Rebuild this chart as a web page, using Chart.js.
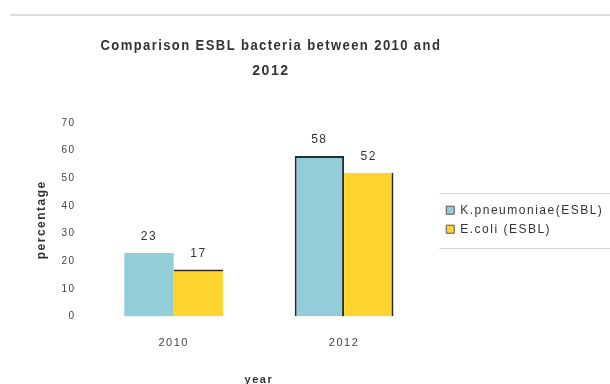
<!DOCTYPE html>
<html>
<head>
<meta charset="utf-8">
<script src="https://cdn.jsdelivr.net/npm/chart.js@4.4.1/dist/chart.umd.min.js"></script>
<style>
  body { margin: 0; background: #fff; }
  #wrap { position: relative; width: 610px; height: 384px; overflow: hidden; }
  #topline { position: absolute; left: 10px; top: 14px; width: 600px; height: 2px; background: #dcdcdc; }
  #esblChart { position: absolute; left: 0; top: 0; }
</style>
</head>
<body>
<div id="wrap">
  <div id="topline"></div>
  <canvas id="esblChart" width="610" height="384"></canvas>
</div>
<script>
var years = ['2010', '2012'];
var kpneumoniae = [23, 58];
var ecoli = [17, 52];
var seriesNames = ['K.pneumoniae(ESBL)', 'E.coli (ESBL)'];
var yTicks = [0, 10, 20, 30, 40, 50, 60, 70];

document.addEventListener('DOMContentLoaded', function () {
    // wide text like the original office export
    var spacing = {
        id: 'spacing',
        beforeUpdate: function (chart) { chart.ctx.letterSpacing = '1.5px'; },
        beforeDraw: function (chart) { chart.ctx.letterSpacing = '1.5px'; }
    };

    // nudge title and legend after the layout is done,
    // the legend is allowed to run off the right edge
    var nudge = {
        id: 'nudge',
        afterLayout: function (chart) {
            var t = chart.titleBlock;
            t.left += 12; t.right += 12;
            var lg = chart.legend;
            lg.left += 10; lg.right += 50; lg.width += 40;
        }
    };

    // value labels above each bar
    var barValues = {
        id: 'barValues',
        afterDatasetsDraw: function (chart) {
            var ctx = chart.ctx;
            ctx.save();
            ctx.font = '12px "Liberation Sans", Arial, sans-serif';
            ctx.fillStyle = '#333';
            ctx.textAlign = 'center';
            ctx.textBaseline = 'bottom';
            chart.data.datasets.forEach(function (ds, i) {
                chart.getDatasetMeta(i).data.forEach(function (bar, j) {
                    ctx.fillText(ds.data[j], bar.x, bar.y - 10);
                });
            });
            ctx.restore();
        }
    };

    // thin rules above and below the legend
    var legendRules = {
        id: 'legendRules',
        afterDraw: function (chart) {
            var lg = chart.legend;
            var boxes = lg.legendHitBoxes;
            if (!boxes || !boxes.length) return;
            var top = Math.round(boxes[0].top - 11) + 0.5;
            var last = boxes[boxes.length - 1];
            var bottom = Math.round(last.top + last.height + 13) + 0.5;
            var ctx = chart.ctx;
            ctx.save();
            ctx.strokeStyle = '#d9d9d9';
            ctx.lineWidth = 1;
            ctx.beginPath();
            ctx.moveTo(lg.left, top);
            ctx.lineTo(chart.width, top);
            ctx.moveTo(lg.left, bottom);
            ctx.lineTo(chart.width, bottom);
            ctx.stroke();
            ctx.restore();
        }
    };

    var ctx = document.getElementById('esblChart').getContext('2d');
    var myChart = new Chart(ctx, {
        type: 'bar',
        data: {
            labels: years,
            datasets: [{
                label: seriesNames[0],
                data: kpneumoniae,
                backgroundColor: '#93cdd9',
                borderColor: '#1e3234',
                borderWidth: [0, 2]
            }, {
                label: seriesNames[1],
                data: ecoli,
                backgroundColor: '#fed530',
                borderColor: '#2b2616',
                borderWidth: [{ top: 2, left: 0, right: 0, bottom: 0 }, { top: 0, left: 0, right: 2, bottom: 0 }]
            }]
        },
        options: {
            responsive: false,
            animation: false,
            layout: {
                padding: { top: 34, left: 28, right: 47, bottom: -3 }
            },
            datasets: {
                bar: { categoryPercentage: 0.58, barPercentage: 1.0, borderSkipped: 'start' }
            },
            plugins: {
                title: {
                    display: true,
                    fullSize: false,
                    text: ['Comparison ESBL bacteria between 2010 and', '2012'],
                    color: '#333',
                    font: { family: '"Liberation Sans", Arial, sans-serif', size: 14, weight: 'bold', lineHeight: 1.78 },
                    padding: { top: 0, bottom: 39 }
                },
                legend: {
                    position: 'right',
                    align: 'center',
                    fullSize: false,
                    labels: {
                        boxWidth: 8,
                        boxHeight: 8,
                        padding: 7,
                        color: '#333',
                        font: { family: '"Liberation Sans", Arial, sans-serif', size: 12 },
                        generateLabels: function (chart) {
                            var items = Chart.defaults.plugins.legend.labels.generateLabels(chart);
                            items.forEach(function (it) {
                                it.strokeStyle = '#555';
                                it.lineWidth = 1;
                            });
                            return items;
                        }
                    }
                },
                tooltip: { enabled: false }
            },
            scales: {
                x: {
                    grid: { display: false, drawTicks: false },
                    border: { display: false },
                    ticks: {
                        color: '#444',
                        padding: 20,
                        font: { family: '"Liberation Sans", Arial, sans-serif', size: 11 }
                    },
                    title: {
                        display: true,
                        text: 'year',
                        color: '#333',
                        padding: { top: 4, bottom: 0 },
                        font: { family: '"Liberation Sans", Arial, sans-serif', size: 11, weight: 'bold' }
                    }
                },
                y: {
                    min: 0,
                    max: 70,
                    grid: { display: false, drawTicks: false },
                    border: { display: false },
                    afterBuildTicks: function (axis) {
                        axis.ticks = yTicks.map(function (v) { return { value: v }; });
                    },
                    ticks: {
                        color: '#444',
                        padding: 13,
                        font: { family: '"Liberation Sans", Arial, sans-serif', size: 10 }
                    },
                    title: {
                        display: true,
                        text: 'percentage',
                        color: '#333',
                        padding: { top: 6, bottom: 0 },
                        font: { family: '"Liberation Sans", Arial, sans-serif', size: 12, weight: 'bold' }
                    }
                }
            }
        },
        plugins: [spacing, nudge, barValues, legendRules]
    });
});
</script>
</body>
</html>
